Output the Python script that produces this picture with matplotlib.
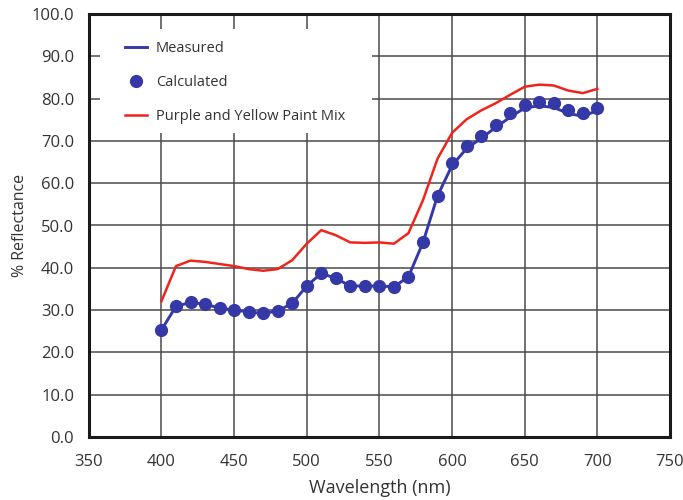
import matplotlib
matplotlib.use("Agg")
import matplotlib.pyplot as plt
from matplotlib.lines import Line2D
from matplotlib.patches import Rectangle

plt.rcParams['font.family'] = ['Open Sans', 'DejaVu Sans']

wavelength = list(range(400, 701, 10))
measured = [25.3, 30.9, 31.8, 31.4, 30.5, 30.0, 29.6, 29.2, 29.8, 31.6, 35.7, 38.7, 37.5,
            35.7, 35.7, 35.7, 35.5, 37.9, 46.0, 57.0, 64.2, 68.2, 70.6, 73.2, 75.6, 77.8,
            78.3, 77.9, 76.5, 75.8, 77.2]
calculated = [25.3, 30.9, 31.8, 31.4, 30.5, 30.0, 29.6, 29.2, 29.8, 31.6, 35.7, 38.7, 37.5,
              35.7, 35.7, 35.7, 35.5, 37.9, 46.0, 57.0, 64.7, 68.8, 71.1, 73.8, 76.5, 78.6,
              79.3, 79.0, 77.2, 76.6, 77.8]
paint_mix = [32.1, 40.4, 41.7, 41.4, 40.9, 40.4, 39.7, 39.3, 39.7, 41.8, 45.7, 48.9, 47.7,
             46.0, 45.9, 46.0, 45.7, 48.2, 56.0, 65.8, 71.9, 75.1, 77.2, 78.9, 80.9, 82.8,
             83.3, 83.1, 81.9, 81.3, 82.3]

x_ticks = list(range(350, 751, 50))
y_ticks = list(range(0, 101, 10))

blue = '#3539a8'
red = '#f0241c'
text_c = '#333333'

fig = plt.figure(figsize=(6.83, 5.0), dpi=100)
ax = fig.add_axes([0.130, 0.126, 0.851, 0.846])

ax.plot(wavelength, measured, color=blue, lw=2.1, zorder=3)
ax.plot(wavelength, calculated, 'o', color=blue, ms=8.5, zorder=4)
ax.plot(wavelength, paint_mix, color=red, lw=1.8, zorder=3)

ax.set_xlim(350, 750)
ax.set_ylim(0, 100)
ax.set_xticks(x_ticks)
ax.set_yticks(y_ticks)
ax.set_yticklabels([f"{v:.1f}" for v in y_ticks])
ax.grid(True, color='#4a4a4a', lw=1.1)
ax.set_axisbelow(True)
ax.tick_params(length=0, labelsize=12, colors=text_c)
ax.tick_params(axis='x', pad=12.5)
ax.tick_params(axis='y', pad=10.5)
for s in ax.spines.values():
    s.set_linewidth(2.2)
    s.set_color('#1a1a1a')

ax.set_xlabel('Wavelength (nm)', fontsize=13, color=text_c, labelpad=6.5)
ax.set_ylabel('% Reflectance', fontsize=11.5, color=text_c, labelpad=2.5)

# white legend background covering the grid
ax.add_patch(Rectangle((0.019, 0.719), 0.468, 0.246, transform=ax.transAxes,
                       facecolor='white', edgecolor='none', zorder=1))

handles = [Line2D([], [], color=blue, lw=2.1),
           Line2D([], [], color=blue, marker='o', ls='none', ms=8.5),
           Line2D([], [], color=red, lw=1.8)]
labels = ['Measured', 'Calculated', 'Purple and Yellow Paint Mix']
leg = ax.legend(handles, labels, loc='upper left', bbox_to_anchor=(0.062, 0.936),
                fontsize=10.5, frameon=False, handlelength=1.55, handletextpad=0.57,
                labelspacing=1.3, borderpad=0.0, borderaxespad=0.0, labelcolor=text_c)
leg.set_zorder(5)

fig.savefig('out.png', dpi=100)
